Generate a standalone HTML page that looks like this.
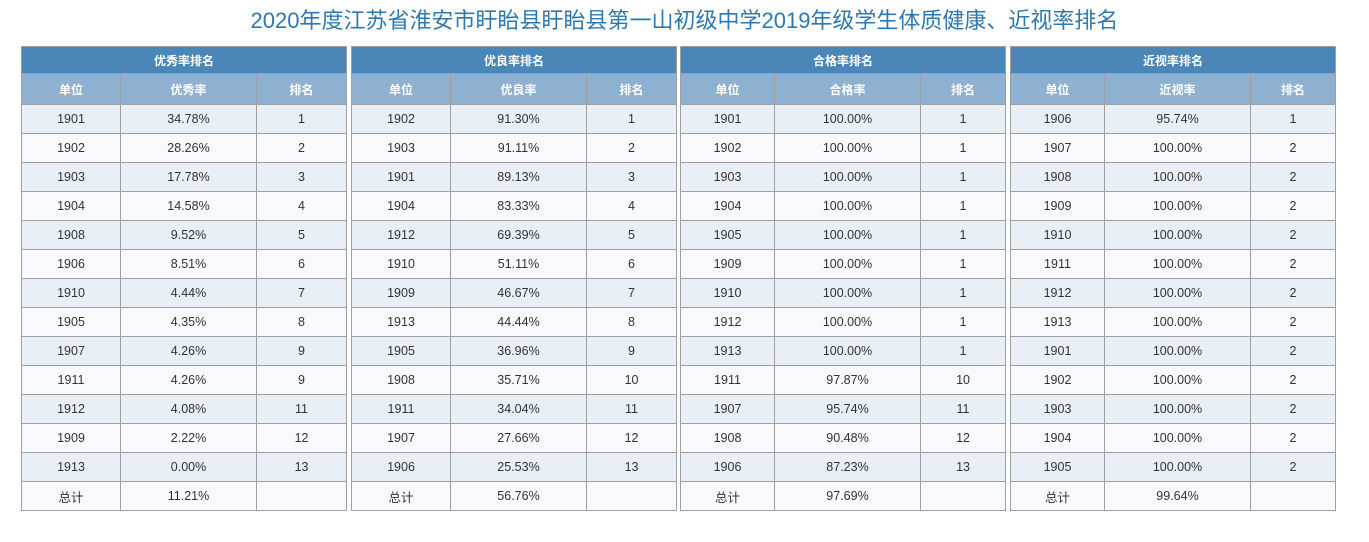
<!DOCTYPE html>
<html><head><meta charset="utf-8"><style>
body{margin:0;width:1369px;height:542px;background:#fff;font-family:"Liberation Sans","Noto Sans CJK SC",sans-serif;overflow:hidden;position:relative}
h1{position:absolute;top:6px;left:0;width:1369px;text-align:center;margin:0;font-weight:normal;font-size:22px;color:#2f78b0;line-height:30px}
table{position:absolute;top:46px;border-collapse:collapse;table-layout:fixed;font-size:12.5px;color:#333}
td,th{border:1px solid #a0a0a0;text-align:center;padding:0}
th.t{background:#4a87b8;color:#fff;height:26px;font-size:12px}
th.s{background:#8fb1d1;color:#fff;height:30px;font-size:12px}
tr.o td{background:#e8eff7}
tr.e td{background:#f7f9fd}
td{height:28px}
</style></head><body>
<h1>2020年度江苏省淮安市盱眙县盱眙县第一山初级中学2019年级学生体质健康、近视率排名</h1>
<script>
const titles=["优秀率排名","优良率排名","合格率排名","近视率排名"];
const metrics=["优秀率","优良率","合格率","近视率"];
const lefts=[21,351,680,1010];
const colW=[[99,136,90],[99,136,90],[94,146,85],[94,146,85]];
const units=[
["1901","1902","1903","1904","1908","1906","1910","1905","1907","1911","1912","1909","1913"],
["1902","1903","1901","1904","1912","1910","1909","1913","1905","1908","1911","1907","1906"],
["1901","1902","1903","1904","1905","1909","1910","1912","1913","1911","1907","1908","1906"],
["1906","1907","1908","1909","1910","1911","1912","1913","1901","1902","1903","1904","1905"]];
const rates=[
["34.78%","28.26%","17.78%","14.58%","9.52%","8.51%","4.44%","4.35%","4.26%","4.26%","4.08%","2.22%","0.00%"],
["91.30%","91.11%","89.13%","83.33%","69.39%","51.11%","46.67%","44.44%","36.96%","35.71%","34.04%","27.66%","25.53%"],
["100.00%","100.00%","100.00%","100.00%","100.00%","100.00%","100.00%","100.00%","100.00%","97.87%","95.74%","90.48%","87.23%"],
["95.74%","100.00%","100.00%","100.00%","100.00%","100.00%","100.00%","100.00%","100.00%","100.00%","100.00%","100.00%","100.00%"]];
const ranks=[
["1","2","3","4","5","6","7","8","9","9","11","12","13"],
["1","2","3","4","5","6","7","8","9","10","11","12","13"],
["1","1","1","1","1","1","1","1","1","10","11","12","13"],
["1","2","2","2","2","2","2","2","2","2","2","2","2"]];
const totals=["11.21%","56.76%","97.69%","99.64%"];
for(let k=0;k<4;k++){
 const t=document.createElement('table');
 
 
 t.style.left=lefts[k]+'px';
 const w=colW[k];t.style.width=(w[0]+w[1]+w[2])+'px';
 const cg=document.createElement('colgroup');
 w.forEach(x=>{const c=document.createElement('col');c.style.width=x+'px';cg.appendChild(c);});
 t.appendChild(cg);
 let h='<tr><th class="t" colspan="3">'+titles[k]+'</th></tr>';
 h+='<tr><th class="s">单位</th><th class="s">'+metrics[k]+'</th><th class="s">排名</th></tr>';
 for(let i=0;i<13;i++){
  h+='<tr class="'+(i%2?'e':'o')+'"><td>'+units[k][i]+'</td><td>'+rates[k][i]+'</td><td>'+ranks[k][i]+'</td></tr>';
 }
 h+='<tr class="e"><td>总计</td><td>'+totals[k]+'</td><td></td></tr>';
 t.insertAdjacentHTML('beforeend',h);
 document.body.appendChild(t);
}
</script>
</body></html>
